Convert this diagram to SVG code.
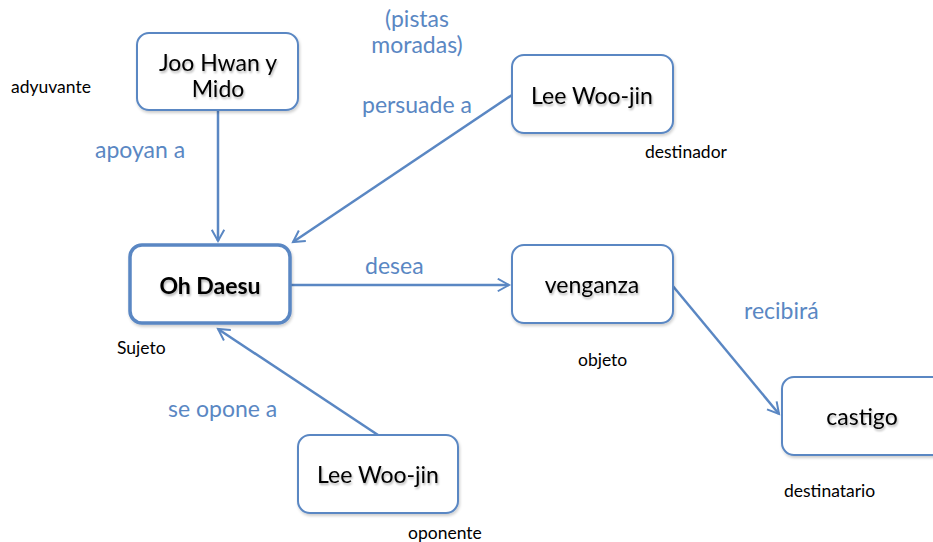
<svg xmlns="http://www.w3.org/2000/svg" width="933" height="542" viewBox="0 0 933 542">
<style>
.box{fill:#fff;stroke:#5A87C3;stroke-width:2}
.main{fill:#fff;stroke:#5A87C3;stroke-width:3.5}
.nt{font-family:Lato,"Open Sans",sans-serif;font-size:23px;fill:#000;text-anchor:middle;filter:url(#ts)}
.lb{font-family:Lato,"Open Sans",sans-serif;font-size:23px;fill:#5A87C3}
.sm{font-family:Lato,"Open Sans",sans-serif;font-size:17.5px;fill:#000}
.edge{stroke:#5A87C3;stroke-width:2.5;fill:none;marker-end:url(#ah)}
</style>
<defs>
<marker id="ah" viewBox="0 0 12 12" refX="10" refY="6" markerWidth="6" markerHeight="6" orient="auto" markerUnits="strokeWidth">
<path d="M1,1 L10,6 L1,11" fill="none" stroke="#5A87C3" stroke-width="1.6"/>
</marker>
<filter id="ts" x="-10%" y="-20%" width="120%" height="160%">
<feGaussianBlur in="SourceAlpha" stdDeviation="1"/>
<feOffset dx="1" dy="2" result="b"/>
<feComponentTransfer><feFuncA type="linear" slope="0.3"/></feComponentTransfer>
<feMerge><feMergeNode/><feMergeNode in="SourceGraphic"/></feMerge>
</filter>
<filter id="bs" x="-10%" y="-10%" width="125%" height="130%">
<feGaussianBlur in="SourceAlpha" stdDeviation="1.5"/>
<feOffset dx="1" dy="2"/>
<feComponentTransfer><feFuncA type="linear" slope="0.2"/></feComponentTransfer>
<feMerge><feMergeNode/><feMergeNode in="SourceGraphic"/></feMerge>
</filter>
</defs>
<g id="connectors">
<line class="edge" x1="218" y1="111" x2="218" y2="241"/>
<line class="edge" x1="512" y1="95" x2="293" y2="242"/>
<line class="edge" x1="291" y1="285" x2="509" y2="285"/>
<line class="edge" x1="672" y1="285" x2="779" y2="414"/>
<line class="edge" x1="378" y1="435" x2="218" y2="329"/>
</g>
<g id="labels">
<text class="lb" x="417" y="27" text-anchor="middle" font-size="18">(pistas</text>
<text class="lb" x="417" y="53" text-anchor="middle" font-size="18">moradas)</text>
<text class="lb" x="362" y="113">persuade a</text>
<text class="lb" x="95" y="158">apoyan a</text>
<text class="lb" x="365" y="274">desea</text>
<text class="lb" x="744" y="319">recibirá</text>
<text class="lb" x="168" y="417">se opone a</text>
<text class="sm" x="11" y="93">adyuvante</text>
<text class="sm" x="645" y="158">destinador</text>
<text class="sm" x="117" y="354">Sujeto</text>
<text class="sm" x="578" y="366">objeto</text>
<text class="sm" x="408" y="539">oponente</text>
<text class="sm" x="784" y="497">destinatario</text>
</g>
<g id="joo">
<rect class="box" x="137" y="33" width="161" height="77" rx="12" filter="url(#bs)"/>
<text class="nt" x="218" y="71">Joo Hwan y</text>
<text class="nt" x="218" y="97">Mido</text>
</g>
<g id="lee-top">
<rect class="box" x="512" y="55" width="161" height="78" rx="12" filter="url(#bs)"/>
<text class="nt" x="592" y="104">Lee Woo-jin</text>
</g>
<g id="oh">
<rect class="main" x="130" y="245" width="160" height="78" rx="12" filter="url(#bs)"/>
<text class="nt" x="210" y="294" font-weight="bold" font-size="22">Oh Daesu</text>
</g>
<g id="venganza">
<rect class="box" x="512" y="245" width="161" height="78" rx="12" filter="url(#bs)"/>
<text class="nt" x="592" y="293">venganza</text>
</g>
<g id="lee-bottom">
<rect class="box" x="298" y="435" width="160" height="78" rx="12" filter="url(#bs)"/>
<text class="nt" x="378" y="483">Lee Woo-jin</text>
</g>
<g id="castigo">
<rect class="box" x="782" y="377" width="170" height="78" rx="12" filter="url(#bs)"/>
<text class="nt" x="862" y="425">castigo</text>
</g>
</svg>
